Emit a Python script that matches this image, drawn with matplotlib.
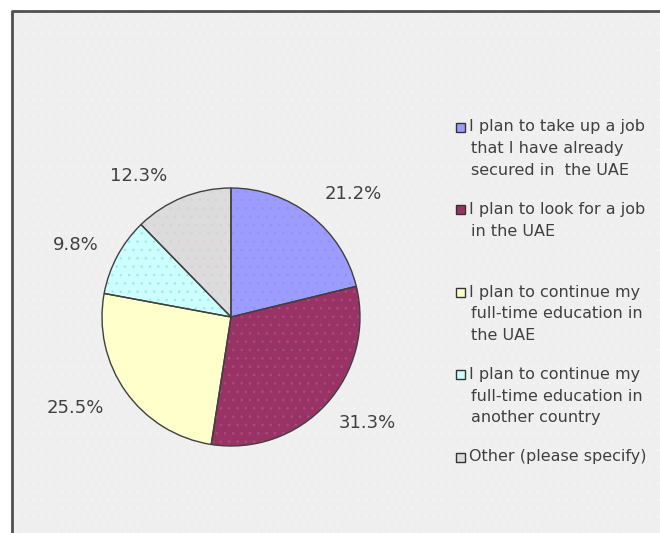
import matplotlib.pyplot as plt
from matplotlib.patches import Rectangle

# survey answers, clockwise from 12 o'clock
categories = [
    "I plan to take up a job\nthat I have already\nsecured in  the UAE",
    "I plan to look for a job\nin the UAE",
    "I plan to continue my\nfull-time education in\nthe UAE",
    "I plan to continue my\nfull-time education in\nanother country",
    "Other (please specify)",
]
shares = [21.2, 31.3, 25.5, 9.8, 12.3]

slice_colors = ["#9c9cff", "#993366", "#ffffcc", "#ccffff", "#dcdcdc"]
dot_colors = ["#9292f2", "#a74c80", "#ffffcc", "#a8e6e6", "#dccfd6"]

# canvas in pixels
W, H = 660, 533
cx, cy, r = 231, 317, 129

# percent label centres (pixels, y down)
label_xy = [(353, 194), (367, 423), (75, 408), (76, 245), (139, 176)]

plt.rcParams["hatch.linewidth"] = 0.6

fig = plt.figure(figsize=(W / 100, H / 100), dpi=100)
ax = fig.add_axes([0, 0, 1, 1])

# chart area: grey fill with a dark frame on top and left
ax.add_patch(Rectangle((11.5, 0), W, H - 11, facecolor="#efefef",
                       edgecolor="none", zorder=0))
ax.add_patch(Rectangle((11.5, 0), W, H - 11, facecolor="none",
                       edgecolor="#f4f4f4", linewidth=0, hatch="..", zorder=0.5))
ax.plot([11.5, 11.5, W], [0, H - 11, H - 11], color="#505050", lw=2,
        solid_capstyle="butt", zorder=1)

# dotted texture goes first, edges are drawn on top of it
base, _ = ax.pie(shares, colors=slice_colors, startangle=90, counterclock=False,
                 center=(cx, H - cy), radius=r, frame=True,
                 wedgeprops=dict(linewidth=0))
for w, c in zip(base, dot_colors):
    w.set_edgecolor(c)
    w.set_hatch("..")

ax.pie(shares, startangle=90, counterclock=False,
       center=(cx, H - cy), radius=r, frame=True,
       wedgeprops=dict(facecolor="none", edgecolor="#404040", linewidth=1))

for v, (x, y) in zip(shares, label_xy):
    ax.text(x, H - y, f"{v:.1f}%", ha="center", va="center",
            fontsize=13, color="#404040")

# legend drawn by hand: one block per answer
row_y0, row_step, line_step = 127, 82.5, 21.7
for i, (lab, col) in enumerate(zip(categories, slice_colors)):
    y0 = row_y0 + i * row_step
    ax.add_patch(Rectangle((455.5, H - y0 - 4.5), 9, 9, facecolor=col,
                           edgecolor="#333333", linewidth=1, zorder=3))
    for k, line in enumerate(lab.split("\n")):
        ax.text(469 if k == 0 else 471, H - (y0 + k * line_step), line,
                ha="left", va="center", fontsize=11.5, color="#404040")

ax.set_xlim(0, W)
ax.set_ylim(0, H)
ax.set_aspect("auto")
ax.axis("off")

fig.savefig("out.png", dpi=100, facecolor="white")
